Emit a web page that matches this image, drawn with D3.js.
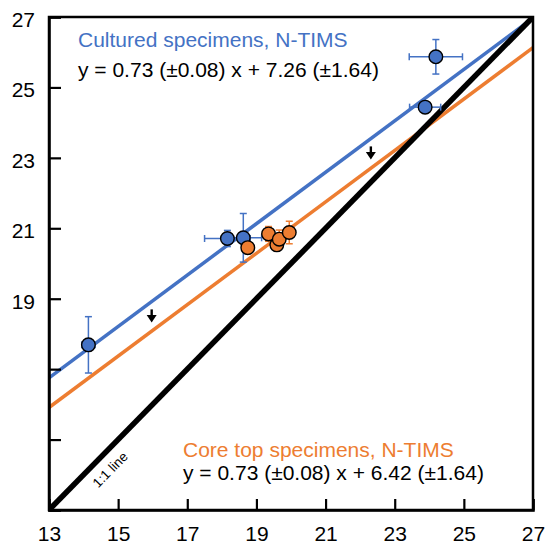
<!DOCTYPE html>
<html>
<head>
<meta charset="utf-8">
<script src="https://cdn.jsdelivr.net/npm/d3@7"></script>
<style>
  html, body { margin: 0; padding: 0; background: #fff; }
  svg { display: block; font-family: "Liberation Sans", Arial, Helvetica, sans-serif; }
</style>
</head>
<body>
<svg id="chart" width="548" height="544"></svg>
<script>
// Axis ticks
const xTicks = [13, 15, 17, 19, 21, 23, 25, 27];
const yTicks = [13, 15, 17, 19, 21, 23, 25, 27];
const yTickLabels = ["", "", "", "19", "21", "23", "25", "27"];

// Cultured specimens (N-TIMS)
const culturedX    = [14.14, 18.16, 18.62, 23.88, 24.19];
const culturedY    = [17.69, 20.71, 20.73, 24.44, 25.87];
const culturedXErr = [0.19, 0.66, 0.53, 0.45, 0.77];
const culturedYErr = [0.80, 0.23, 0.69, 0.10, 0.49];

// Core top specimens (N-TIMS)
const coreX    = [18.75, 19.35, 19.59, 19.66, 19.95];
const coreY    = [20.45, 20.84, 20.53, 20.69, 20.88];
const coreXErr = [0.10, 0.12, 0.10, 0.10, 0.10];
const coreYErr = [0.15, 0.21, 0.15, 0.26, 0.32];

// Regression fits: y = slope * x + intercept
const culturedFit = { slope: 0.73, intercept: 7.26 };
const coreFit     = { slope: 0.73, intercept: 6.42 };

// x positions of the offset arrows between the two fits
const arrowX = [15.97, 22.31];

const blue = "#4472C4";
const orange = "#ED7D31";

const margin = { left: 49, right: 15, top: 17, bottom: 34 };
const W = 548, H = 544;
const x = d3.scaleLinear().domain([13, 27]).range([margin.left, W - margin.right]);
const y = d3.scaleLinear().domain([13, 27]).range([H - margin.bottom, margin.top]);

const svg = d3.select("#chart");

svg.append("defs").append("clipPath").attr("id", "plotClip")
  .append("rect")
  .attr("x", x(13)).attr("y", y(27))
  .attr("width", x(27) - x(13)).attr("height", y(13) - y(27));

const plot = svg.append("g").attr("clip-path", "url(#plotClip)");

function fitLine(fit, color, width) {
  const xs = [13, 27];
  plot.append("line")
    .attr("x1", x(xs[0])).attr("y1", y(fit.slope * xs[0] + fit.intercept))
    .attr("x2", x(xs[1])).attr("y2", y(fit.slope * xs[1] + fit.intercept))
    .attr("stroke", color).attr("stroke-width", width);
}

fitLine(coreFit, orange, 3.5);
fitLine(culturedFit, blue, 3.5);
fitLine({ slope: 1, intercept: 0 }, "#000", 5.5);

// Down arrows halfway between the two fits
const arrows = svg.append("g");
arrowX.forEach(ax => {
  const yTop = culturedFit.slope * ax + culturedFit.intercept;
  const yBot = coreFit.slope * ax + coreFit.intercept;
  const mid = (y(yTop) + y(yBot)) / 2;
  const px = x(ax);
  arrows.append("line")
    .attr("x1", px).attr("x2", px)
    .attr("y1", mid - 7).attr("y2", mid)
    .attr("stroke", "#000").attr("stroke-width", 2.4);
  arrows.append("path")
    .attr("d", `M${px - 5},${mid - 1.5} L${px + 5},${mid - 1.5} L${px},${mid + 6} Z`)
    .attr("fill", "#000");
});

// Points with error bars
function series(xs, ys, xe, ye, color) {
  const g = svg.append("g");
  const data = xs.map((v, i) => ({ x: v, y: ys[i], xe: xe[i], ye: ye[i] }));
  const cap = 3.5;
  const eb = g.selectAll("g.eb").data(data).enter().append("g")
    .attr("stroke", color).attr("stroke-width", 1.5);
  eb.append("line")
    .attr("x1", d => x(d.x - d.xe)).attr("x2", d => x(d.x + d.xe))
    .attr("y1", d => y(d.y)).attr("y2", d => y(d.y));
  eb.append("line")
    .attr("x1", d => x(d.x)).attr("x2", d => x(d.x))
    .attr("y1", d => y(d.y - d.ye)).attr("y2", d => y(d.y + d.ye));
  [-1, 1].forEach(s => {
    eb.append("line")
      .attr("x1", d => x(d.x + s * d.xe)).attr("x2", d => x(d.x + s * d.xe))
      .attr("y1", d => y(d.y) - cap).attr("y2", d => y(d.y) + cap);
    eb.append("line")
      .attr("x1", d => x(d.x) - cap).attr("x2", d => x(d.x) + cap)
      .attr("y1", d => y(d.y + s * d.ye)).attr("y2", d => y(d.y + s * d.ye));
  });
  g.selectAll("circle").data(data).enter().append("circle")
    .attr("cx", d => x(d.x)).attr("cy", d => y(d.y)).attr("r", 6.8)
    .attr("fill", color).attr("stroke", "#000").attr("stroke-width", 1.4);
}

series(culturedX, culturedY, culturedXErr, culturedYErr, blue);
series(coreX, coreY, coreXErr, coreYErr, orange);

// Frame and axes (ticks point inward)
svg.append("rect")
  .attr("x", x(13)).attr("y", y(27))
  .attr("width", x(27) - x(13)).attr("height", y(13) - y(27))
  .attr("fill", "none").attr("stroke", "#000").attr("stroke-width", 2.5);

const xAxis = svg.append("g")
  .attr("transform", `translate(0,${y(13)})`)
  .call(d3.axisBottom(x).tickValues(xTicks).tickSize(-11).tickPadding(16).tickFormat(d3.format("d")));
const yAxis = svg.append("g")
  .attr("transform", `translate(${x(13)},0)`)
  .call(d3.axisLeft(y).tickValues(yTicks).tickSize(-12).tickPadding(14)
    .tickFormat((d, i) => yTickLabels[i]));

[xAxis, yAxis].forEach(a => {
  a.select(".domain").attr("stroke-width", 2.5);
  a.selectAll(".tick line").attr("stroke-width", 2.2);
  a.selectAll(".tick text").attr("font-size", 21).attr("fill", "#000")
    .attr("font-family", "'Liberation Sans', Arial, Helvetica, sans-serif");
});
yAxis.selectAll(".tick text").attr("dy", "0.45em");

// Annotations
const ann = svg.append("g").attr("font-size", 21);
ann.append("text").attr("x", 78).attr("y", 47).attr("fill", blue)
  .text("Cultured specimens, N-TIMS");
ann.append("text").attr("x", 78).attr("y", 77).attr("fill", "#000")
  .text("y = 0.73 (\u00b10.08) x + 7.26 (\u00b11.64)");
ann.append("text").attr("x", 183).attr("y", 457).attr("fill", orange)
  .text("Core top specimens, N-TIMS");
ann.append("text").attr("x", 183).attr("y", 480).attr("fill", "#000")
  .text("y = 0.73 (\u00b10.08) x + 6.42 (\u00b11.64)");

// Label along the 1:1 line
const angle = -Math.atan2(y(13) - y(14), x(14) - x(13)) * 180 / Math.PI;
svg.append("text")
  .attr("transform", `translate(${x(14.45)},${y(14.45)}) rotate(${angle}) translate(0,20)`)
  .attr("text-anchor", "middle").attr("font-size", 13.5).attr("fill", "#000")
  .text("1:1 line");
</script>
</body>
</html>
